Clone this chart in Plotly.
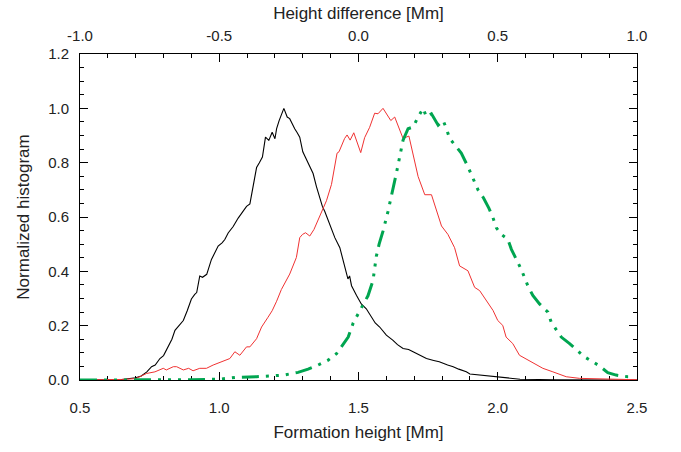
import plotly.graph_objects as go

# Black curve
black_x = [0.50, 0.60, 0.65, 0.70, 0.72, 0.74, 0.757, 0.77, 0.787, 0.80, 0.817, 0.83, 0.841, 0.855,
           0.871, 0.885, 0.90, 0.912, 0.919, 0.93, 0.94, 0.955, 0.972, 0.985, 0.996, 1.01, 1.02,
           1.032, 1.05, 1.068, 1.083, 1.098, 1.11, 1.12, 1.134, 1.144, 1.155, 1.166, 1.178, 1.19,
           1.20, 1.206, 1.215, 1.232, 1.244, 1.253, 1.262, 1.271, 1.28, 1.289, 1.30, 1.319, 1.337,
           1.349, 1.361, 1.37, 1.379, 1.397, 1.415, 1.433, 1.451, 1.462, 1.468, 1.475, 1.493, 1.51,
           1.528, 1.546, 1.56, 1.576, 1.60, 1.624, 1.64, 1.66, 1.68, 1.696, 1.72, 1.744, 1.77, 1.79,
           1.82, 1.84, 1.86, 1.887, 1.90, 1.92, 1.97, 2.007, 2.05, 2.08, 2.15, 2.2, 2.5]
black_y = [0.0, 0.0, 0.002, 0.008, 0.015, 0.03, 0.049, 0.055, 0.079, 0.09, 0.122, 0.15, 0.183, 0.20,
           0.219, 0.255, 0.298, 0.315, 0.322, 0.383, 0.378, 0.389, 0.444, 0.47, 0.493, 0.505, 0.517,
           0.541, 0.565, 0.596, 0.62, 0.639, 0.648, 0.70, 0.782, 0.80, 0.821, 0.894, 0.882, 0.912,
           0.888, 0.925, 0.955, 1.0, 0.968, 0.962, 0.94, 0.925, 0.91, 0.894, 0.84, 0.797, 0.76,
           0.712, 0.669, 0.64, 0.62, 0.575, 0.524, 0.487, 0.42, 0.372, 0.383, 0.347, 0.311, 0.28,
           0.262, 0.231, 0.21, 0.195, 0.165, 0.146, 0.13, 0.116, 0.112, 0.104, 0.09, 0.079, 0.072, 0.067,
           0.055, 0.049, 0.04, 0.03, 0.022, 0.02, 0.015, 0.01, 0.005, 0.003, 0.002, 0.001, 0.0]

# Red curve
red_x = [0.50, 0.60, 0.65, 0.70, 0.715, 0.739, 0.769, 0.799, 0.81, 0.835, 0.847, 0.871, 0.89, 0.906,
         0.93, 0.954, 0.978, 1.008, 1.038, 1.056, 1.074, 1.098, 1.11, 1.134, 1.152, 1.175, 1.19,
         1.206, 1.223, 1.253, 1.277, 1.289, 1.299, 1.31, 1.325, 1.34, 1.361, 1.385, 1.403, 1.423,
         1.43, 1.45, 1.459, 1.47, 1.483, 1.508, 1.522, 1.54, 1.558, 1.57, 1.588, 1.60, 1.616, 1.63,
         1.648, 1.66, 1.681, 1.696, 1.714, 1.738, 1.762, 1.798, 1.821, 1.845, 1.863, 1.893, 1.917,
         1.935, 1.959, 1.983, 2.0, 2.018, 2.03, 2.054, 2.078, 2.102, 2.132, 2.162, 2.198, 2.246,
         2.294, 2.35, 2.41, 2.5]
red_y = [0.0, 0.0, 0.002, 0.005, 0.012, 0.024, 0.03, 0.043, 0.037, 0.049, 0.049, 0.037, 0.043, 0.034,
         0.043, 0.043, 0.055, 0.067, 0.079, 0.104, 0.091, 0.122, 0.122, 0.152, 0.195, 0.231, 0.255,
         0.29, 0.333, 0.39, 0.451, 0.524, 0.536, 0.542, 0.53, 0.554, 0.606, 0.66, 0.72, 0.835,
         0.84, 0.889, 0.902, 0.883, 0.91, 0.837, 0.892, 0.93, 0.982, 0.98, 1.0, 0.98, 0.955, 0.968,
         0.919, 0.889, 0.898, 0.835, 0.749, 0.682, 0.682, 0.567, 0.536, 0.487, 0.42, 0.402, 0.341,
         0.329, 0.292, 0.256, 0.219, 0.201, 0.158, 0.134, 0.091, 0.077, 0.061, 0.043, 0.03, 0.012,
         0.006, 0.004, 0.002, 0.001]

# Green curve
green_x = [0.50, 0.70, 0.90, 1.00, 1.062, 1.134, 1.182, 1.23, 1.283, 1.319, 1.355, 1.391, 1.421,
           1.439, 1.463, 1.481, 1.499, 1.516, 1.534, 1.552, 1.564, 1.574, 1.588, 1.606, 1.624, 1.636,
           1.648, 1.66, 1.678, 1.696, 1.714, 1.732, 1.744, 1.762, 1.786, 1.804, 1.816, 1.827, 1.851,
           1.869, 1.893, 1.911, 1.929, 1.949, 1.968, 1.983, 1.995, 2.013, 2.036, 2.049, 2.066, 2.084,
           2.108, 2.126, 2.15, 2.18, 2.192, 2.21, 2.228, 2.258, 2.288, 2.312, 2.341, 2.365, 2.395,
           2.425, 2.467, 2.48]
green_y = [0.0, 0.0, 0.001, 0.003, 0.01, 0.012, 0.016, 0.018, 0.028, 0.04, 0.055, 0.073, 0.097,
           0.122, 0.158, 0.21, 0.245, 0.28, 0.31, 0.366, 0.455, 0.5, 0.548, 0.621, 0.70, 0.761,
           0.822, 0.883, 0.925, 0.931, 0.968, 1.0, 0.968, 0.98, 0.938, 0.955, 0.925, 0.889, 0.859,
           0.835, 0.785, 0.743, 0.70, 0.67, 0.633, 0.597, 0.56, 0.536, 0.518, 0.481, 0.444, 0.408,
           0.347, 0.311, 0.28, 0.25, 0.213, 0.183, 0.158, 0.134, 0.106, 0.085, 0.067, 0.052, 0.027,
           0.018, 0.012, 0.012]

bottom_ticks = [0.5, 1.0, 1.5, 2.0, 2.5]
top_ticks = [-1.0, -0.5, 0.0, 0.5, 1.0]
y_ticks = [0.0, 0.2, 0.4, 0.6, 0.8, 1.0, 1.2]

tick_font = dict(family="Liberation Sans, Arial", size=15, color="#222")
title_font = dict(family="Liberation Sans, Arial", size=17, color="#222")

fig = go.Figure()
fig.add_trace(go.Scatter(x=black_x, y=black_y, mode="lines", cliponaxis=False,
                         line=dict(color="black", width=1.1), showlegend=False))
fig.add_trace(go.Scatter(x=red_x, y=red_y, mode="lines", cliponaxis=False,
                         line=dict(color="#f03232", width=1.0), showlegend=False))
fig.add_trace(go.Scatter(x=green_x, y=green_y, mode="lines", cliponaxis=False,
                         line=dict(color="#00a550", width=3,
                                   dash="17px,7px,3px,7px,3px,7px,3px,7px"),
                         showlegend=False))
fig.add_trace(go.Scatter(x=[-1.0, 1.0], y=[None, None], xaxis="x2", mode="lines",
                         showlegend=False, hoverinfo="skip"))

fig.update_layout(
    width=681, height=452,
    margin=dict(l=80, r=44, t=51, b=72),
    paper_bgcolor="white", plot_bgcolor="white",
    xaxis=dict(range=[0.5, 2.5], tickvals=bottom_ticks, ticktext=[f"{v:.1f}" for v in bottom_ticks],
               ticks="inside", ticklen=8, tickwidth=1, tickcolor="black",
               minor=dict(dtick=0.1, tick0=0.5, ticks="inside", ticklen=4, tickcolor="black"),
               showline=True, linecolor="black", linewidth=1, mirror=False, layer="below traces",
               showgrid=False, zeroline=False, tickfont=tick_font, ticklabelstandoff=14,
               title=dict(text="Formation height [Mm]", font=title_font, standoff=11)),
    xaxis2=dict(range=[-1.0, 1.0], overlaying="x", side="top", anchor="y",
                tickvals=top_ticks, ticktext=[f"{v:.1f}" for v in top_ticks],
                ticks="inside", ticklen=8, tickwidth=1, tickcolor="black",
                minor=dict(dtick=0.1, tick0=-1.0, ticks="inside", ticklen=4, tickcolor="black"),
                showline=True, linecolor="black", linewidth=1,
                showgrid=False, zeroline=False, tickfont=tick_font, ticklabelstandoff=6,
                title=dict(text="Height difference [Mm]", font=title_font, standoff=3)),
    yaxis=dict(range=[0, 1.2], tickvals=y_ticks, ticktext=[f"{v:.1f}" for v in y_ticks],
               ticks="inside", ticklen=8, tickwidth=1, tickcolor="black",
               minor=dict(dtick=0.05, tick0=0, ticks="inside", ticklen=4, tickcolor="black"),
               showline=True, linecolor="black", linewidth=1, mirror="ticks",
               showgrid=False, zeroline=False, tickfont=tick_font, ticklabelstandoff=7,
               title=dict(text="Normalized histogram", font=title_font, standoff=14)),
)

fig.write_html("out.html")
